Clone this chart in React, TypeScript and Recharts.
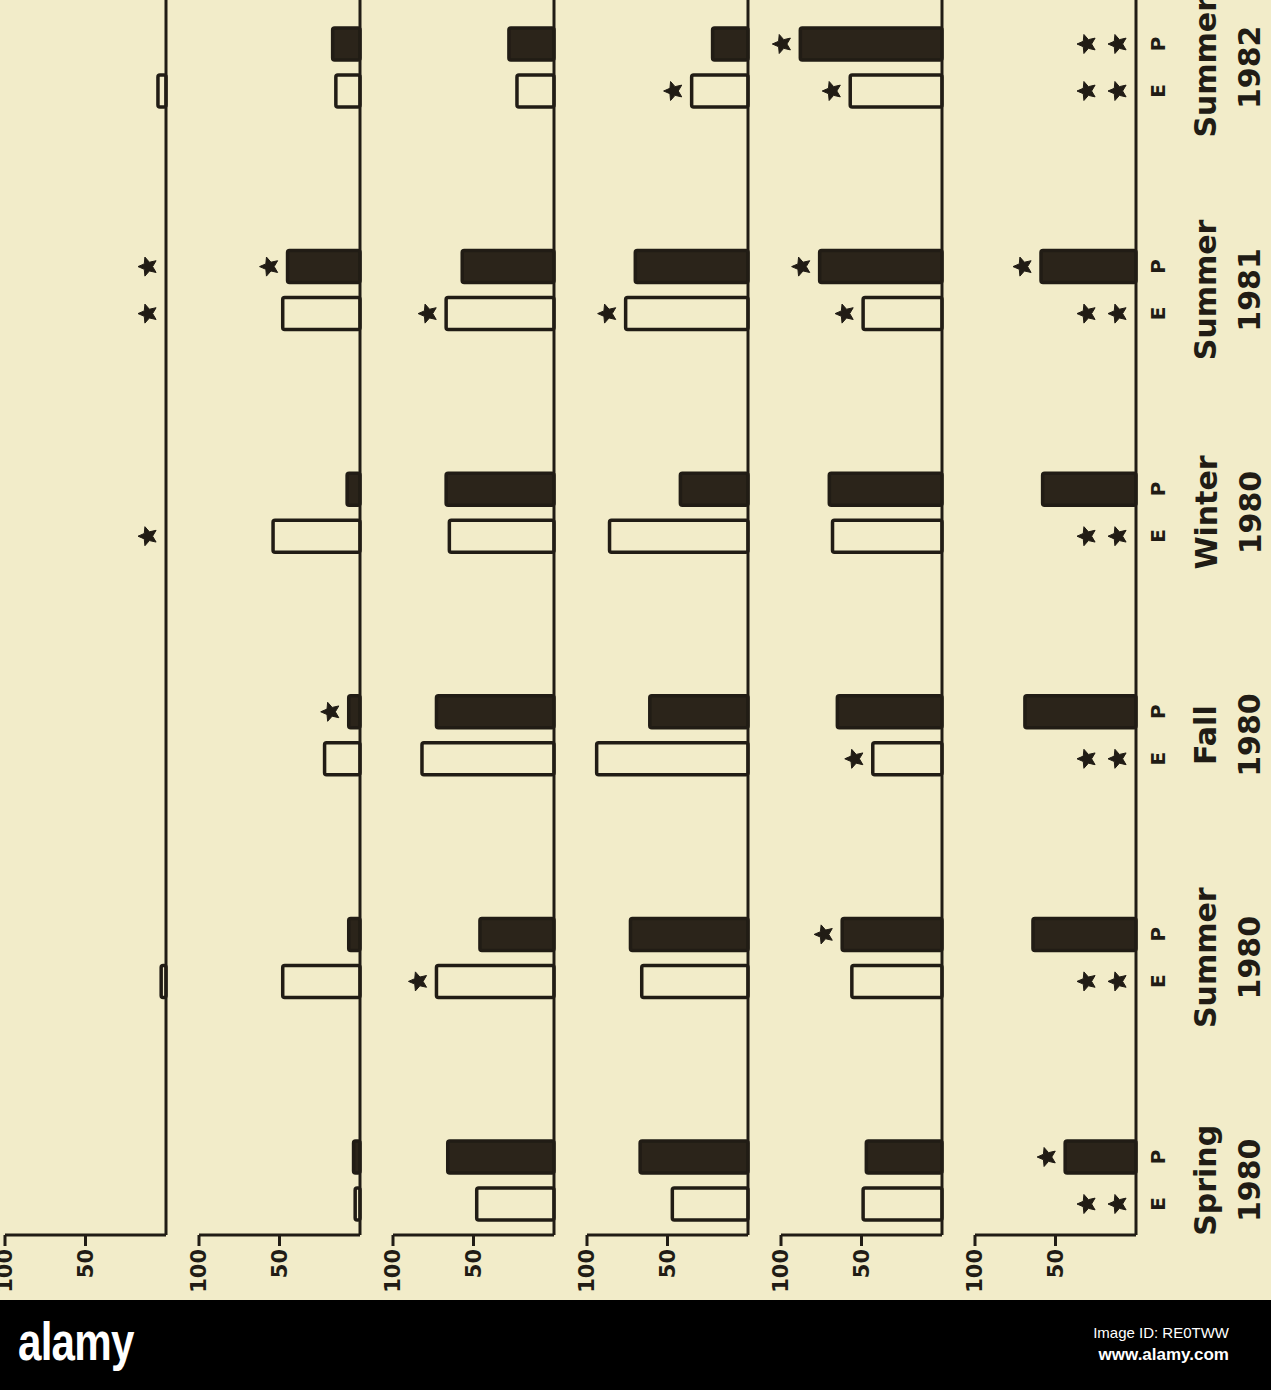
import React from 'react'
import { Bar, BarChart, XAxis, YAxis } from 'recharts'

// categories, oldest first (drawn bottom to top after the page rotation)
const seasons = ['Spring', 'Summer', 'Fall', 'Winter', 'Summer', 'Summer']
const years = ['1980', '1980', '1980', '1980', '1981', '1982']

// one row per panel, left panel first; columns follow the categories above
const eValues = [
  [0, 3, 0, 0, 0, 5],
  [3, 48, 22, 54, 48, 15],
  [48, 73, 82, 65, 67, 23],
  [47, 66, 94, 86, 76, 35],
  [49, 56, 43, 68, 49, 57],
  [0, 0, 0, 0, 0, 0],
]
const pValues = [
  [0, 0, 0, 0, 0, 0],
  [4, 7, 7, 8, 45, 17],
  [66, 46, 73, 67, 57, 28],
  [67, 73, 61, 42, 70, 22],
  [47, 62, 65, 70, 76, 88],
  [44, 64, 69, 58, 59, 0],
]
// number of significance stars beside each bar
const eStars = [
  [0, 0, 0, 1, 1, 0],
  [0, 0, 0, 0, 0, 0],
  [0, 1, 0, 0, 1, 0],
  [0, 0, 0, 0, 1, 1],
  [0, 0, 1, 0, 1, 1],
  [2, 2, 2, 2, 2, 2],
]
const pStars = [
  [0, 0, 0, 0, 1, 0],
  [0, 0, 1, 0, 1, 0],
  [0, 0, 0, 0, 0, 0],
  [0, 0, 0, 0, 0, 0],
  [0, 1, 0, 0, 1, 1],
  [1, 0, 0, 0, 1, 2],
]
const valueTicks = [50, 100]

const BG = '#f2ecc9'
const INK = '#211c15'
const BAR_INK = '#2b241a'
const FONT = "'DejaVu Sans', sans-serif"

const FIRST_BASE = 166
const PANEL_STEP = 194
const PLOT_W = 161
const CHART_TOP = -44
const PLOT_H = 1279
const BAND = 222.6
const LEFT_M = 16
const X_AXIS_H = 80

function rowsFor(k: number) {
  return seasons
    .map((s, i) => ({
      cat: `${s} ${years[i]}`,
      season: s,
      year: years[i],
      E: eValues[k][i],
      P: pValues[k][i],
      eStars: eStars[k][i],
      pStars: pStars[k][i],
    }))
    .reverse()
}

function Star({ cx, cy }: { cx: number; cy: number }) {
  const pts: string[] = []
  for (let i = 0; i < 10; i++) {
    const r = i % 2 === 0 ? 10 : 4.6
    const a = Math.PI + (i * Math.PI) / 5
    pts.push(`${cx + r * Math.cos(a)},${cy + r * Math.sin(a)}`)
  }
  return <polygon points={pts.join(' ')} fill={INK} stroke={INK} strokeWidth={1} strokeLinejoin="round" />
}

function makeShape(filled: boolean, starKey: 'eStars' | 'pStars') {
  return (props: any) => {
    const { x, y, width, height, payload } = props
    const left = Math.min(x, x + width)
    const w = Math.abs(width)
    const cy = y + height / 2
    const n = payload ? payload[starKey] : 0
    const stars = []
    for (let s = 0; s < n; s++) stars.push(<Star key={s} cx={left - 18 - s * 31} cy={cy} />)
    return (
      <g>
        {w > 0 && (
          <rect
            x={left}
            y={y}
            width={w}
            height={height}
            rx={2}
            fill={filled ? BAR_INK : BG}
            stroke={INK}
            strokeWidth={3.5}
          />
        )}
        {stars}
      </g>
    )
  }
}

const ValueTick = (props: any) => {
  const { x, y, payload } = props
  return (
    <text
      x={x}
      y={y}
      transform={`rotate(-90 ${x} ${y})`}
      textAnchor="end"
      dominantBaseline="central"
      fontFamily={FONT}
      fontWeight="bold"
      fontSize={21}
      fill={INK}
    >
      {payload.value}
    </text>
  )
}

const CategoryTick = (props: any) => {
  const { x, y, index, data } = props
  const row = data[index]
  const rot = (tx: number, ty: number, label: string, size: number, key: string) => (
    <text
      key={key}
      x={tx}
      y={ty}
      transform={`rotate(-90 ${tx} ${ty})`}
      textAnchor="middle"
      dominantBaseline="central"
      fontFamily={FONT}
      fontWeight="bold"
      fontSize={size}
      fill={INK}
    >
      {label}
    </text>
  )
  return (
    <g>
      {rot(x + 22, y + 23.5, 'E', 20, 'e')}
      {rot(x + 22, y - 23.5, 'P', 20, 'p')}
      {rot(x + 70, y, row.season, 30, 's')}
      {rot(x + 114, y, row.year, 30, 'y')}
    </g>
  )
}

function Panel({ k }: { k: number }) {
  const rows = rowsFor(k)
  const last = k === eValues.length - 1
  const yW = last ? 135 : 4
  const base = FIRST_BASE + PANEL_STEP * k
  const width = LEFT_M + PLOT_W + yW
  const padBottom = PLOT_H - BAND * rows.length
  return (
    <div style={{ position: 'absolute', left: base - PLOT_W - LEFT_M, top: CHART_TOP }}>
      <BarChart
        layout="vertical"
        width={width}
        height={PLOT_H + X_AXIS_H}
        data={rows}
        margin={{ top: 0, right: 0, bottom: 0, left: LEFT_M }}
        barSize={32}
        barGap={15}
      >
        <XAxis
          type="number"
          domain={[0, 100]}
          reversed
          ticks={valueTicks}
          interval={0}
          height={X_AXIS_H}
          tickSize={11}
          tickMargin={3}
          axisLine={{ stroke: INK, strokeWidth: 3 }}
          tickLine={{ stroke: INK, strokeWidth: 3 }}
          tick={<ValueTick />}
        />
        <YAxis
          type="category"
          dataKey="cat"
          orientation="right"
          width={yW}
          interval={0}
          tickSize={0}
          tickMargin={0}
          padding={{ top: 0, bottom: padBottom }}
          axisLine={{ stroke: INK, strokeWidth: 3 }}
          tickLine={false}
          tick={last ? <CategoryTick data={rows} /> : false}
        />
        <Bar dataKey="P" isAnimationActive={false} shape={makeShape(true, 'pStars')} />
        <Bar dataKey="E" isAnimationActive={false} shape={makeShape(false, 'eStars')} />
      </BarChart>
    </div>
  )
}

export default function App() {
  return (
    <div
      style={{
        position: 'absolute',
        left: 0,
        top: 0,
        width: 1271,
        height: 1390,
        background: BG,
        overflow: 'hidden',
      }}
    >
      {eValues.map((_, k) => (
        <Panel key={k} k={k} />
      ))}
      <div
        style={{
          position: 'absolute',
          left: 0,
          top: 1300,
          width: 1271,
          height: 90,
          background: '#000',
          color: '#fff',
          fontFamily: "'Liberation Sans', Arial, sans-serif",
        }}
      >
        <div
          style={{
            position: 'absolute',
            left: 18,
            top: 10,
            fontSize: 54,
            fontWeight: 'bold',
            letterSpacing: -1,
            transform: 'scaleX(0.78)',
            transformOrigin: 'left top',
          }}
        >
          alamy
        </div>
        <div style={{ position: 'absolute', right: 42, top: 24, fontSize: 15, textAlign: 'right' }}>
          Image ID: RE0TWW
        </div>
        <div style={{ position: 'absolute', right: 42, top: 45, fontSize: 17, fontWeight: 'bold', textAlign: 'right' }}>
          www.alamy.com
        </div>
      </div>
    </div>
  )
}
